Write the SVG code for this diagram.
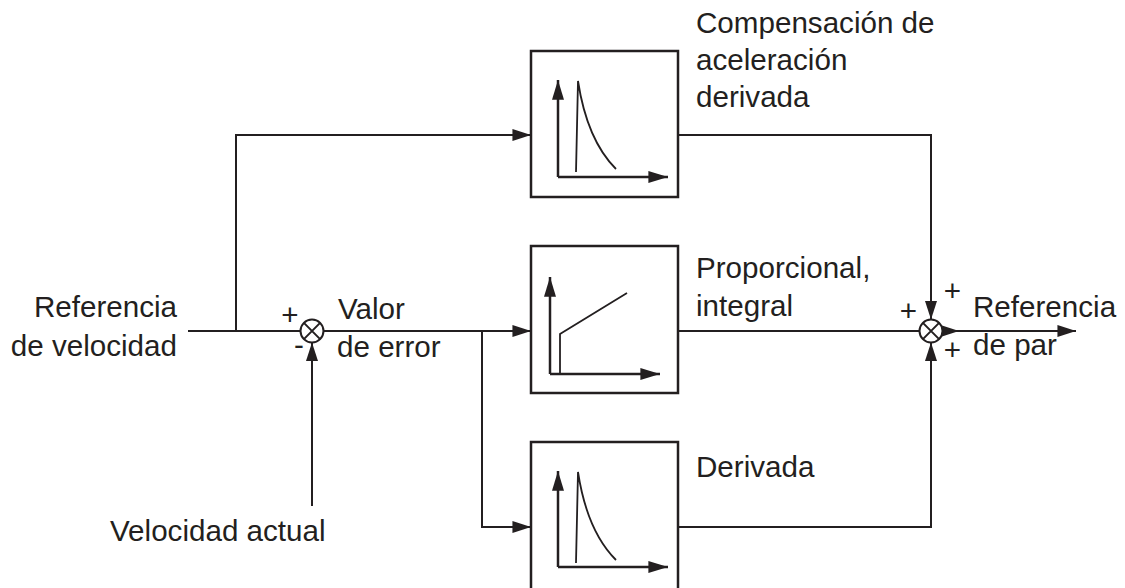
<svg xmlns="http://www.w3.org/2000/svg" width="1125" height="588" viewBox="0 0 1125 588">
<style>
.t{font-family:"Liberation Sans",Arial,sans-serif;font-size:29.6px;fill:#231f20}
.box{fill:#fff;stroke:#231f20;stroke-width:2.5}
.ax{fill:none;stroke:#231f20;stroke-width:2.5}
.cv{fill:none;stroke:#231f20;stroke-width:1.8}
.ln{fill:none;stroke:#231f20;stroke-width:2}
.sum{fill:#fff;stroke:#231f20;stroke-width:2}
</style>
<defs>
<marker id="ah" markerUnits="userSpaceOnUse" markerWidth="19" markerHeight="12" refX="17" refY="5.5" orient="auto" viewBox="0 0 17 11">
<path d="M0,0 L17,5.5 L0,11 Z" fill="#231f20"/>
</marker>
<marker id="axh" markerUnits="userSpaceOnUse" markerWidth="20" markerHeight="12" refX="18" refY="5.5" orient="auto" viewBox="0 0 18 11">
<path d="M0,0 L18,5.5 L0,11 Z" fill="#231f20"/>
</marker>
</defs>
<rect width="1125" height="588" fill="#fff"/>

<g id="connectors">
<path class="ln" d="M188,331 H300.5"/>
<path class="ln" d="M236,331 V135 H531" marker-end="url(#ah)"/>
<path class="ln" d="M323.5,331 H531" marker-end="url(#ah)"/>
<path class="ln" d="M482,331 V527 H531" marker-end="url(#ah)"/>
<path class="ln" d="M312,506 V342.5" marker-end="url(#ah)"/>
<path class="ln" d="M678,135 H931 V319.5" marker-end="url(#ah)"/>
<path class="ln" d="M678,331 H919.5"/>
<path class="ln" d="M678,527 H931 V342.5" marker-end="url(#ah)"/>
<path class="ln" d="M942.5,331 H1076" marker-end="url(#ah)"/>
<path d="M942,325.5 L959,331 L942,336.5 Z" fill="#231f20"/>
</g>

<g id="sum1">
<circle class="sum" cx="312" cy="331" r="11.5"/>
<path class="ln" d="M303.9,322.9 L320.1,339.1 M320.1,322.9 L303.9,339.1"/>
<text class="t" x="290" y="324.5" text-anchor="middle">+</text>
<text class="t" x="299" y="355" text-anchor="middle">-</text>
</g>

<g id="sum2">
<circle class="sum" cx="931" cy="331" r="11.5"/>
<path class="ln" d="M922.9,322.9 L939.1,339.1 M939.1,322.9 L922.9,339.1"/>
<text class="t" x="908.5" y="321" text-anchor="middle">+</text>
<text class="t" x="952.5" y="301" text-anchor="middle">+</text>
<text class="t" x="952.5" y="360" text-anchor="middle">+</text>
</g>

<g id="box-compensacion">
<rect class="box" x="531" y="51" width="147" height="146"/>
<path class="ax" d="M558,177 V80" marker-end="url(#axh)"/>
<path class="ax" d="M558,177 H668" marker-end="url(#axh)"/>
<path class="cv" d="M576,172 L578,81 Q587,140 616,169"/>
</g>

<g id="box-pi">
<rect class="box" x="531" y="246" width="147" height="147"/>
<path class="ax" d="M550,374 V277" marker-end="url(#axh)"/>
<path class="ax" d="M550,374 H660" marker-end="url(#axh)"/>
<path class="cv" d="M560,374 V334 L627,293"/>
</g>

<g id="box-derivada">
<rect class="box" x="531" y="442" width="147" height="160"/>
<path class="ax" d="M558,567 V471" marker-end="url(#axh)"/>
<path class="ax" d="M558,567 H668" marker-end="url(#axh)"/>
<path class="cv" d="M576,563 L578,472 Q587,531 616,560"/>
</g>

<g id="labels">
<text class="t" x="177" y="317" text-anchor="end">Referencia</text>
<text class="t" x="177" y="356" text-anchor="end">de velocidad</text>
<text class="t" x="338" y="319">Valor</text>
<text class="t" x="337" y="357">de error</text>
<text class="t" x="110" y="541">Velocidad actual</text>
<text class="t" x="696" y="33">Compensación de</text>
<text class="t" x="696" y="70">aceleración</text>
<text class="t" x="696" y="107">derivada</text>
<text class="t" x="696" y="278">Proporcional,</text>
<text class="t" x="696" y="316">integral</text>
<text class="t" x="696" y="477">Derivada</text>
<text class="t" x="973" y="317">Referencia</text>
<text class="t" x="973" y="355">de par</text>
</g>
</svg>
